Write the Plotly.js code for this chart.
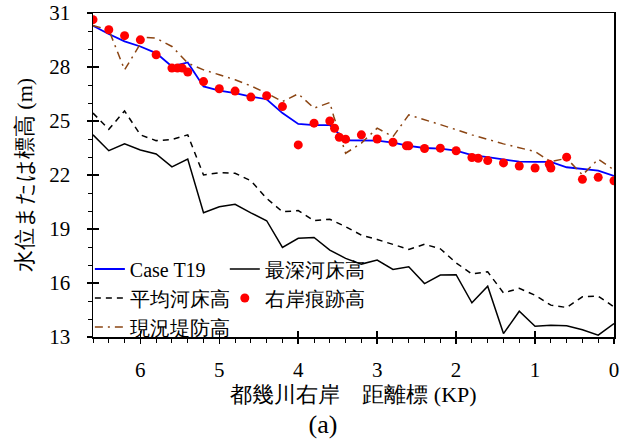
<!DOCTYPE html>
<html>
<head>
<meta charset="utf-8">
<script src="https://cdn.plot.ly/plotly-3.0.1.min.js"></script>
<style>
html,body{margin:0;padding:0;background:#fff;font-family:'Liberation Serif';}
#wrap{position:relative;width:628px;height:443px;}
#chart{position:absolute;left:0;top:0;width:628px;height:443px;font-family:'Liberation Serif';}
#panel{position:absolute;left:323px;top:425px;transform:translate(-50%,-50%);font-family:'Liberation Serif';font-size:26px;color:#000;z-index:5;line-height:1;}
</style>
</head>
<body>
<div id="wrap">
<div id="panel"></div>
<div id="chart"></div>
</div>
<script>
// Distance marker (KP) for the model/profile series
const kp = [6.6, 6.4, 6.2, 6.0, 5.8, 5.6, 5.4, 5.2, 5.0, 4.8, 4.6, 4.4, 4.2, 4.0, 3.8, 3.6, 3.4, 3.2, 3.0, 2.8, 2.6, 2.4, 2.2, 2.0, 1.8, 1.6, 1.4, 1.2, 1.0, 0.8, 0.6, 0.4, 0.2, 0.0];

// Case T19 (computed water level)
const caseT19 = [30.29, 29.83, 29.42, 29.14, 28.77, 28.03, 28.25, 26.92, 26.69, 26.55, 26.36, 26.21, 25.44, 24.84, 24.77, 24.77, 23.93, 23.91, 23.91, 23.80, 23.62, 23.50, 23.47, 23.35, 23.11, 22.99, 22.88, 22.74, 22.73, 22.73, 22.43, 22.32, 22.24, 21.95];

// 最深河床高 (deepest bed)
const deepestBed = [24.23, 23.35, 23.73, 23.39, 23.17, 22.45, 22.88, 19.90, 20.24, 20.37, 19.90, 19.46, 17.98, 18.48, 18.53, 17.83, 17.37, 17.05, 17.27, 16.75, 16.90, 15.97, 16.44, 16.46, 14.90, 15.82, 13.19, 14.43, 13.60, 13.65, 13.62, 13.40, 13.10, 13.75];

// 平均河床高 (mean bed)
const meanBed = [25.44, 24.54, 25.56, 24.23, 23.91, 23.97, 24.23, 22.00, 22.13, 22.10, 21.68, 20.70, 19.96, 20.02, 19.46, 19.54, 19.13, 18.66, 18.42, 18.16, 17.87, 18.15, 17.90, 17.12, 16.50, 16.62, 15.45, 15.70, 15.32, 14.77, 14.64, 15.23, 15.27, 14.67];

// 右岸痕跡高 (right-bank flood marks)
const markKp = [6.6, 6.4, 6.2, 6.0, 5.8, 5.6, 5.53, 5.47, 5.4, 5.2, 5.0, 4.8, 4.6, 4.4, 4.2, 4.0, 3.8, 3.6, 3.54, 3.48, 3.4, 3.2, 3.0, 2.8, 2.63, 2.6, 2.4, 2.2, 2.0, 1.8, 1.72, 1.6, 1.4, 1.2, 1.0, 0.82, 0.8, 0.6, 0.4, 0.2, 0.0];
const markLevel = [30.63, 30.07, 29.74, 29.51, 28.68, 27.94, 27.94, 27.94, 27.72, 27.19, 26.79, 26.66, 26.33, 26.40, 25.80, 23.67, 24.88, 25.00, 24.60, 24.10, 23.99, 24.23, 24.00, 23.82, 23.62, 23.62, 23.47, 23.49, 23.35, 22.97, 22.93, 22.80, 22.67, 22.50, 22.39, 22.60, 22.39, 22.99, 21.76, 21.87, 21.68];

// 現況堤防高 (existing levee crown)
const leveeKp = [6.6, 6.4, 6.2, 5.95, 5.8, 5.6, 5.4, 5.2, 5.0, 4.8, 4.6, 4.4, 4.2, 4.0, 3.8, 3.6, 3.55, 3.4, 3.2, 3.0, 2.8, 2.6, 2.2, 1.8, 1.4, 1.0, 0.8, 0.6, 0.4, 0.2, 0.0];
const leveeLevel = [30.30, 30.07, 27.84, 29.65, 29.60, 29.14, 28.22, 27.84, 27.57, 27.29, 26.95, 26.55, 26.08, 26.51, 25.71, 26.03, 25.25, 23.21, 23.77, 24.60, 24.13, 25.34, 24.80, 24.23, 23.73, 23.30, 22.74, 22.93, 22.00, 22.88, 22.28];

const xTitle = '都幾川右岸\u2003距離標 (KP)';
const yTitle = '水位または標高 (m)';
const panelLabel = '(a)';

document.getElementById('panel').textContent = panelLabel;

const FONT = 'Liberation Serif';

const traces = [
  {x: kp, y: caseT19, name: 'Case T19', mode: 'lines', line: {color: '#0000FF', width: 1.8}, legend: 'legend'},
  {x: kp, y: meanBed, name: '平均河床高', mode: 'lines', line: {color: '#000000', width: 1.5, dash: '6px,5px'}, legend: 'legend'},
  {x: leveeKp, y: leveeLevel, name: '現況堤防高', mode: 'lines', line: {color: '#8B4513', width: 1.5, dash: '8px,5px,2px,5px'}, legend: 'legend'},
  {x: kp, y: deepestBed, name: '最深河床高', mode: 'lines', line: {color: '#000000', width: 1.5}, legend: 'legend2'},
  {x: markKp, y: markLevel, name: '右岸痕跡高', mode: 'markers', marker: {color: '#FF0000', size: 9}, legend: 'legend2'},
  {x: [], y: [], xaxis: 'x2', yaxis: 'y2', showlegend: false, hoverinfo: 'skip', mode: 'lines'}
];

const axCommon = {
  showline: true, linewidth: 1.5, linecolor: '#000', mirror: true,
  showgrid: false, zeroline: false,
  ticks: 'outside', ticklen: 5, tickwidth: 1.5, tickcolor: '#000',
  tickfont: {family: FONT, size: 21, color: '#000'}
};

const legendCommon = {
  bgcolor: 'rgba(0,0,0,0)', borderwidth: 0,
  font: {family: FONT, size: 20, color: '#000'},
  xanchor: 'left', yanchor: 'top', orientation: 'v', tracegroupgap: 0
};

const layout = {
  width: 628, height: 443,
  margin: {l: 93, r: 14, t: 13, b: 106},
  paper_bgcolor: 'rgba(0,0,0,0)', plot_bgcolor: '#fff',
  font: {family: FONT, size: 20, color: '#000'},
  showlegend: true,
  legend: Object.assign({x: -0.006, y: 0.27}, legendCommon),
  legend2: Object.assign({x: 0.253, y: 0.27}, legendCommon),
  xaxis: Object.assign({}, axCommon, {
    range: [6.6, 0], tick0: 0, dtick: 1, ticklabelstandoff: 8,
    minor: {dtick: 0.2, ticks: 'outside', ticklen: 4, tickwidth: 1, tickcolor: '#000', showgrid: false},
    title: {text: xTitle, font: {family: FONT, size: 22, color: '#000'}, standoff: 2}
  }),
  yaxis: Object.assign({}, axCommon, {
    range: [13, 31], tick0: 13, dtick: 3, ticklabelstandoff: 12,
    minor: {dtick: 1, ticks: 'outside', ticklen: 4, tickwidth: 1, tickcolor: '#000', showgrid: false},
    title: {text: yTitle, font: {family: FONT, size: 22, color: '#000'}, standoff: 10}
  }),
  xaxis2: {overlaying: 'x', anchor: 'y2', range: [6.6, 0], tick0: 0, dtick: 1, ticks: 'inside', ticklen: 6, tickwidth: 1.5, tickcolor: '#000', showticklabels: false, showline: false, showgrid: false, zeroline: false, side: 'bottom'},
  yaxis2: {overlaying: 'y', anchor: 'x2', range: [13, 31], tick0: 13, dtick: 3, ticks: 'inside', ticklen: 6, tickwidth: 1.5, tickcolor: '#000', showticklabels: false, showline: false, showgrid: false, zeroline: false, side: 'left'}
};

Plotly.newPlot('chart', traces, layout, {displayModeBar: false, staticPlot: true});
</script>
</body>
</html>
